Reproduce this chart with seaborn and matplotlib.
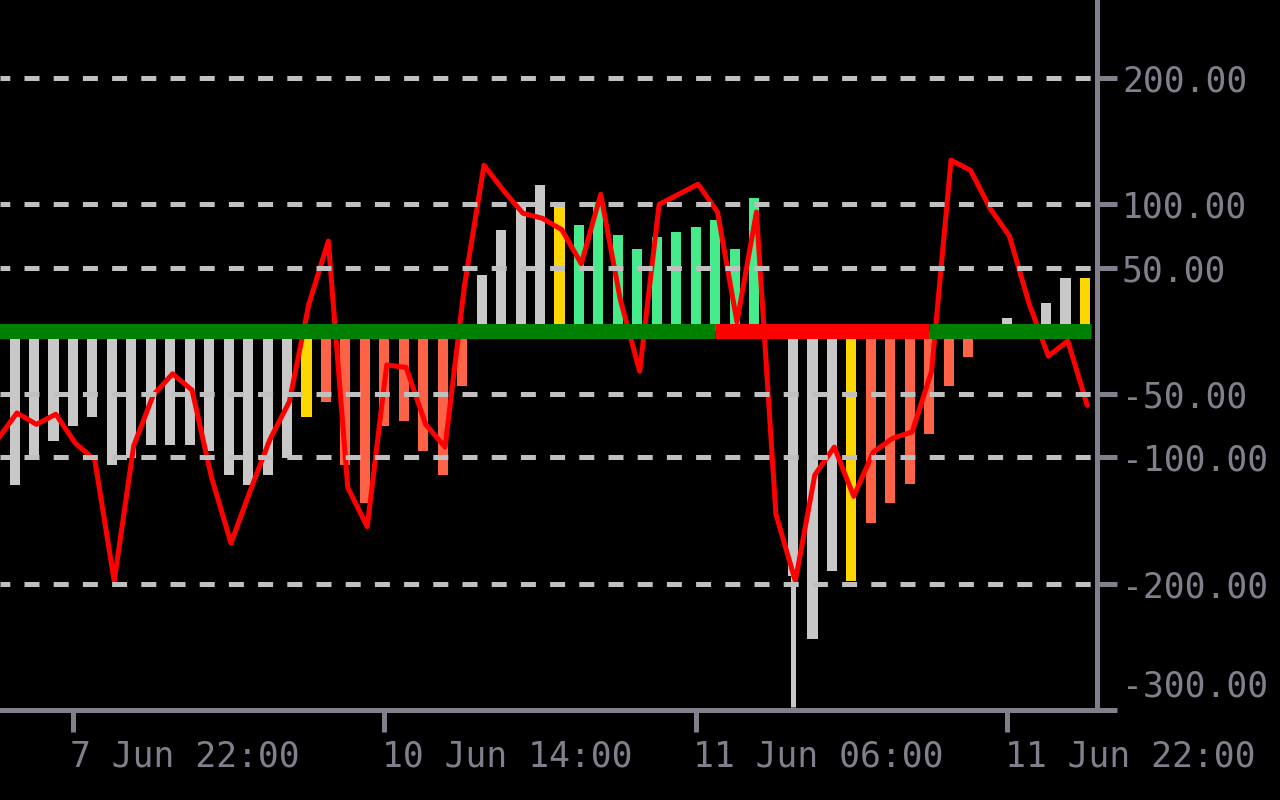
import numpy as np
import pandas as pd
import matplotlib
matplotlib.use("Agg")
import matplotlib.pyplot as plt
import matplotlib.transforms as mtransforms
import seaborn as sns

# ---------------- data ----------------
bar_index = list(range(56))
bar_values = [-122, -101, -87, -75, -68, -106, -101, -90, -90, -90,
              -95, -114, -122, -114, -101, -68, -56, -106, -136, -75,
              -71, -95, -114, -44, 44, 80, 102, 115, 98, 84,
              102, 76, 65, 74, 78, 82, 88, 65, 105, 0,
              -194, -244, -190, -198, -152, -136, -121, -82, -44, -21,
              0, 10, 0, 22, 42, 42]
bar_state = (["neutral"] * 15 + ["signal"] + ["bear"] * 8 + ["neutral"] * 4 +
             ["signal"] + ["bull"] * 10 + ["neutral"] * 4 + ["signal"] +
             ["bear"] * 6 + ["neutral"] * 5 + ["signal"])

tail_index = [40]
tail_top = [-194]
tail_bottom = [-298]

line_index = list(range(-1, 56))
line_values = [-86, -65, -74, -66, -89, -102, -198, -91, -51, -34,
               -47, -116, -168, -126, -86, -56, 21, 71, -124, -155,
               -27, -29, -74, -92, 36, 131, 111, 93, 89, 80,
               53, 108, 25, -32, 100, 108, 116, 94, 7, 94,
               -145, -198, -114, -92, -131, -96, -85, -80, -32, 135,
               127, 97, 75, 22, -20, -8, -59]

band_state = ["up"] * 37 + ["down"] * 11 + ["up"] * 9   # per line_index point

grid_levels = [200, 100, 50, -50, -100, -200]
y_ticks = [200, 100, 50, -50, -100, -200, -300]
x_tick_index = [3, 19, 35, 51]
x_tick_labels = ["7 Jun 22:00", "10 Jun 14:00", "11 Jun 06:00", "11 Jun 22:00"]

# ---------------- style ----------------
palette = {"neutral": "#C8C8C8", "signal": "#FFD700",
           "bear": "#FF6347", "bull": "#46EB8C"}
band_colors = {"up": "#008000", "down": "#FF0000"}
axis_color = "#80808C"

sns.set_theme(style="dark")
plt.rcParams["font.family"] = ["DejaVu Sans Mono", "DejaVu Sans"]

fig = plt.figure(figsize=(12.8, 8), dpi=100, facecolor="black")
ax = fig.add_axes([0, 1 - 710 / 800, 1097 / 1280, 710 / 800])
ax.set_facecolor("black")

df = pd.DataFrame({"bar": bar_index, "value": bar_values, "state": bar_state})
sns.barplot(data=df, x="bar", y="value", hue="state", palette=palette,
            native_scale=True, dodge=False, width=0.52, saturation=1,
            errorbar=None, legend=False, linewidth=0, ax=ax, zorder=1)

# thin tail under one bar
ax.vlines(tail_index, tail_bottom, tail_top, color=palette["neutral"],
          linewidth=3.6, zorder=1)

line_x = np.array(line_index) + 0.12
sns.lineplot(x=line_x, y=line_values, color="#FF0000", linewidth=3.6,
             sort=False, estimator=None, ax=ax, zorder=2)

for lvl in grid_levels:
    ax.axhline(lvl, color="#C0C0C0", linewidth=3.6,
               linestyle=(1.04, (3, 2.84)), zorder=3)

# zero band, coloured by trend
xs = list(line_index) + [line_index[-1] + 0.3]
start = 0
for i in range(1, len(band_state) + 1):
    if i == len(band_state) or band_state[i] != band_state[start]:
        end = min(i, len(xs) - 1)
        ax.plot([xs[start], xs[end]], [0, 0], color=band_colors[band_state[start]],
                linewidth=10.8, solid_capstyle="butt", zorder=4)
        start = i

ax.set_xlim(-0.75, 55.62)
ax.set_ylim(-299.6, 261.7)

for s in ["left", "top"]:
    ax.spines[s].set_visible(False)
for s in ["right", "bottom"]:
    ax.spines[s].set_visible(True)
    ax.spines[s].set_color(axis_color)
    ax.spines[s].set_linewidth(3.6)

ax.yaxis.tick_right()
ax.set_yticks(y_ticks)
ax.set_yticklabels([f"{v:.2f}" for v in y_ticks])
ax.tick_params(axis="y", which="both", left=False, right=True, colors=axis_color,
               length=14.4, width=3.6, pad=3.6, labelsize=25)
ax.set_xticks(x_tick_index)
ax.set_xticklabels(x_tick_labels)
ax.tick_params(axis="x", colors=axis_color, length=16, width=3.6, pad=5.5,
               labelsize=25, bottom=True)
ax.set_xlabel("")
ax.set_ylabel("")
ax.grid(False)

shift_x = mtransforms.ScaledTranslation(-2.5 / 100, 0, fig.dpi_scale_trans)
for lbl in ax.get_xticklabels():
    lbl.set_ha("left")
    lbl.set_transform(lbl.get_transform() + shift_x)
ylbls = ax.get_yticklabels()
ylbls[-1].set_transform(ylbls[-1].get_transform() +
                        mtransforms.ScaledTranslation(0, 0.27, fig.dpi_scale_trans))

fig.savefig("out.png", dpi=100, facecolor="black")
